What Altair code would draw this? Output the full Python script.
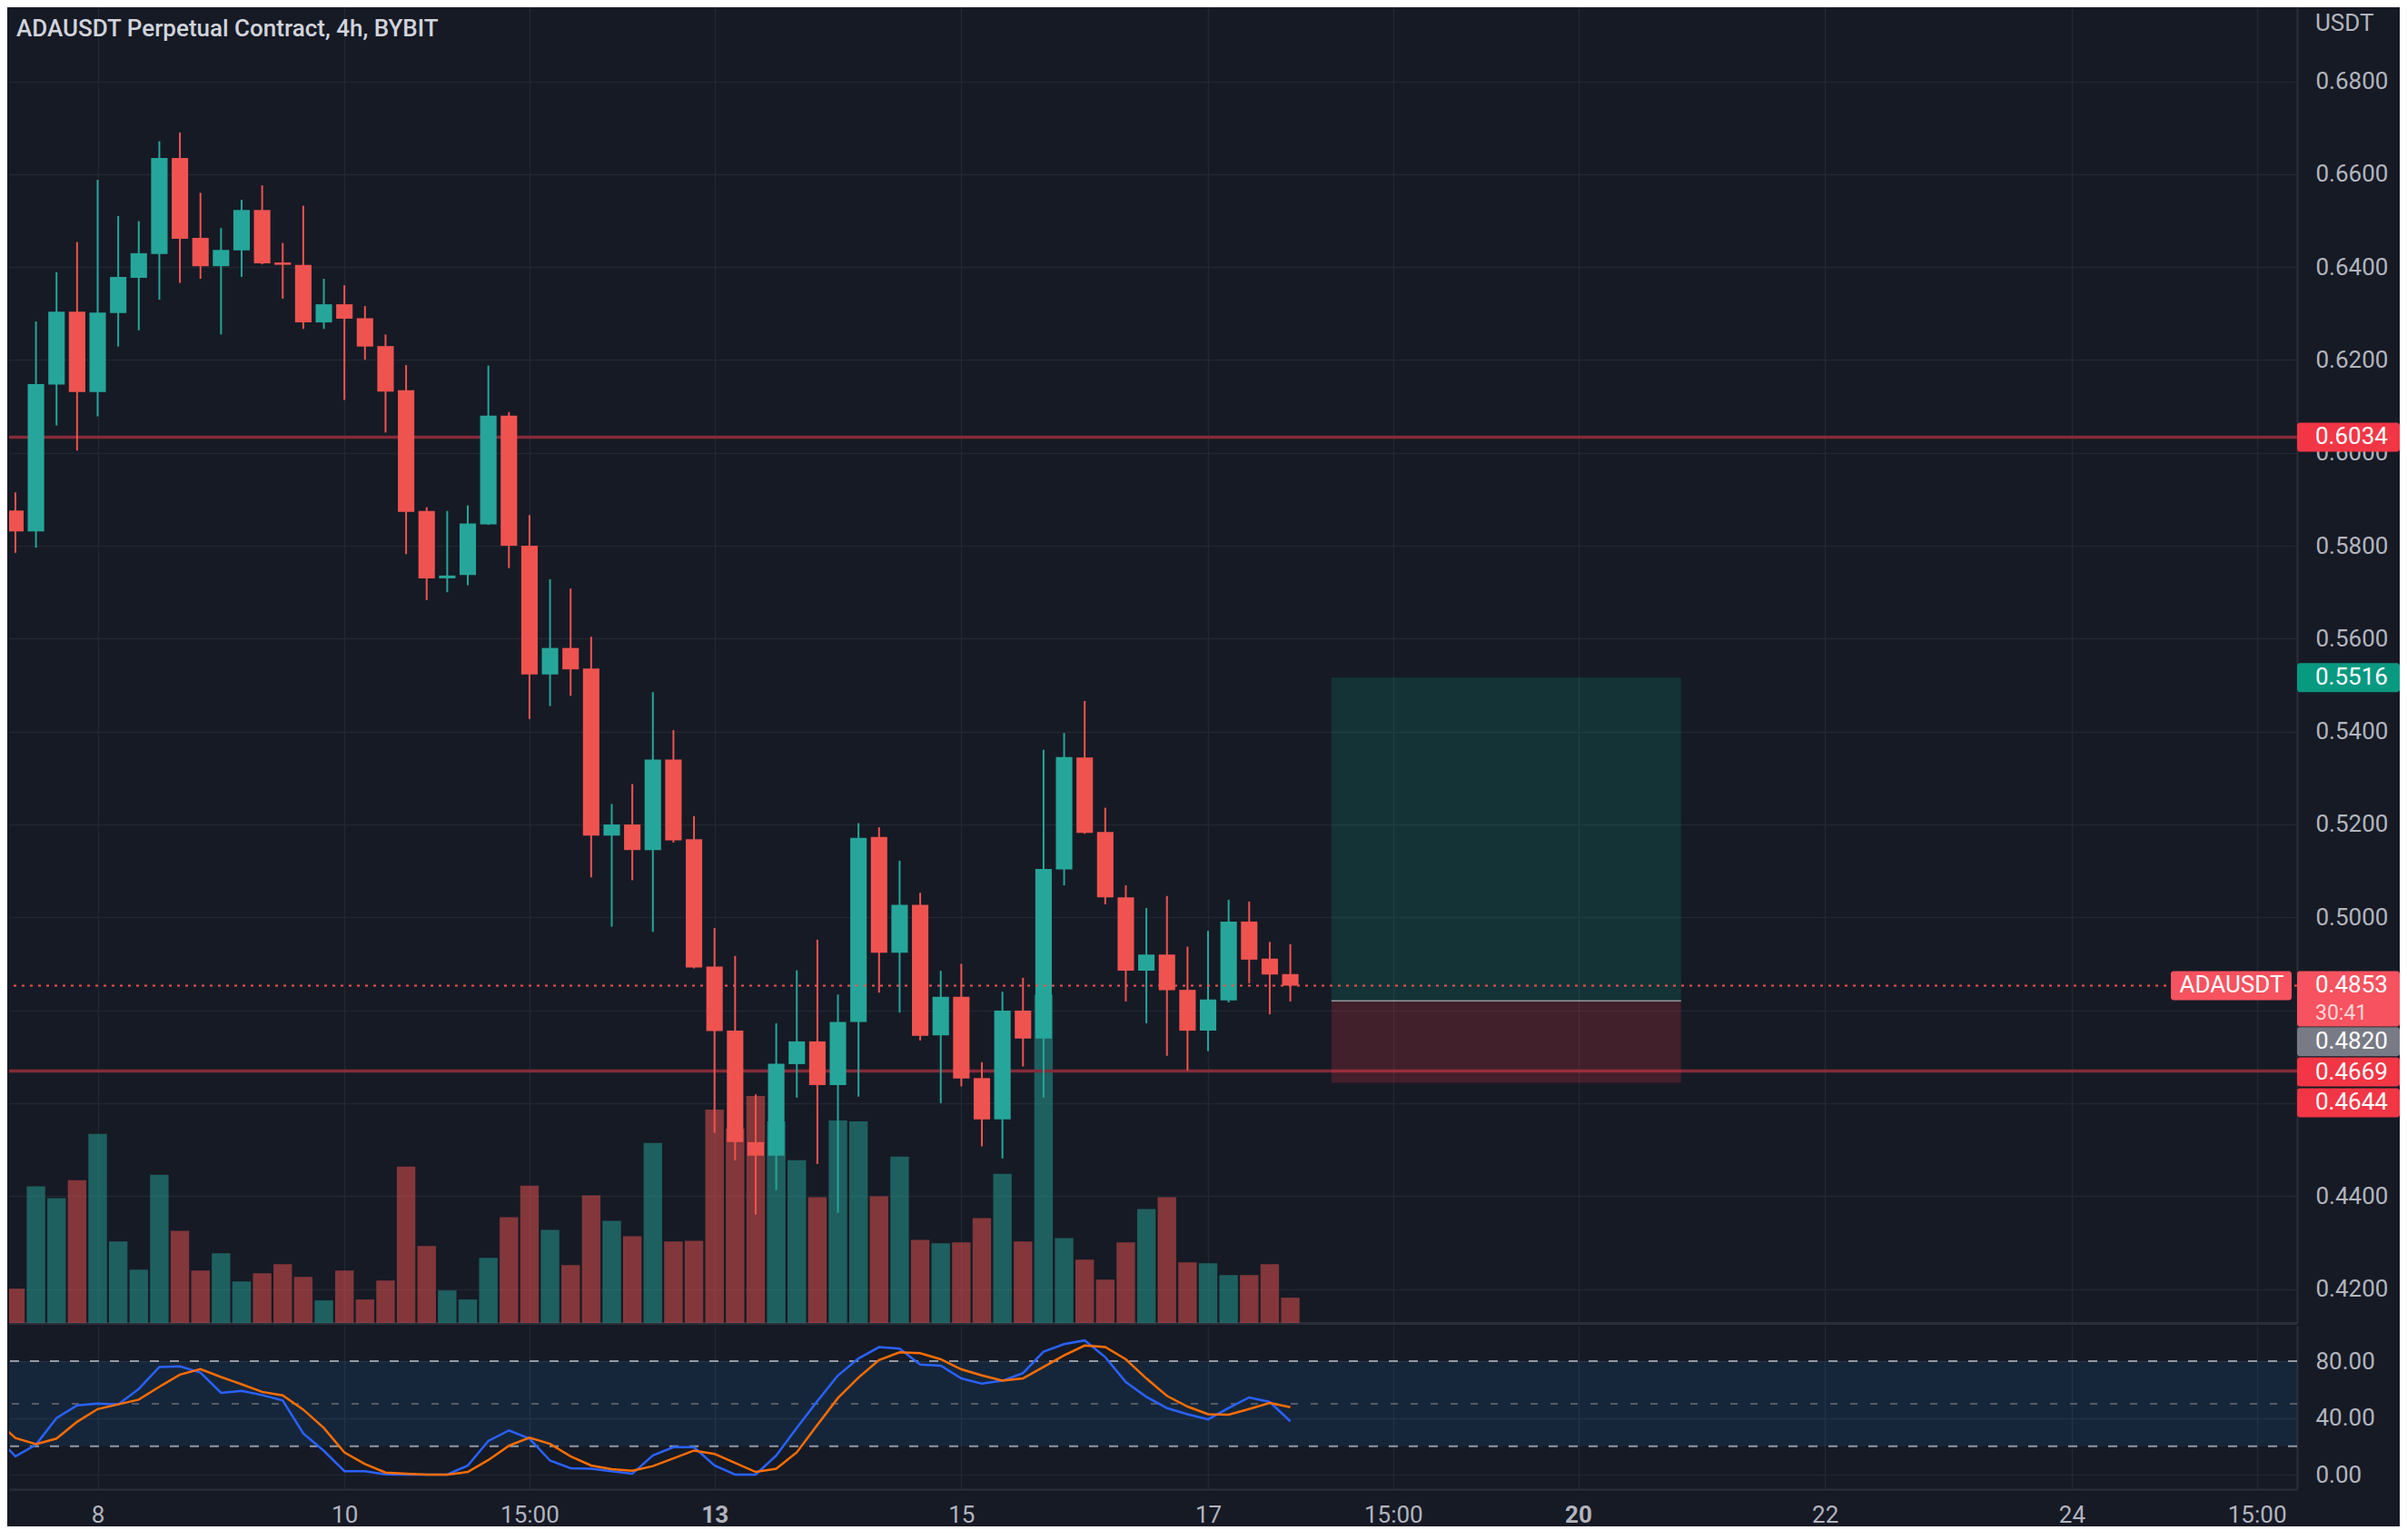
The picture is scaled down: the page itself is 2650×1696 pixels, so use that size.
import altair as alt
import pandas as pd

# ---------------- data ----------------
chart_title = "ADAUSDT Perpetual Contract, 4h, BYBIT"
candle_idx = list(range(-5, 59))  # 4h candle index, 0 = first candle of day 8

open_ = [0.5900, 0.5876, 0.5831, 0.6147, 0.6304, 0.6131, 0.6301, 0.6377, 0.6428, 0.6635,
         0.6463, 0.6402, 0.6436, 0.6523, 0.6410, 0.6405, 0.6281, 0.6320, 0.6290, 0.6230,
         0.6135, 0.5875, 0.5730, 0.5737, 0.5846, 0.6080, 0.5800, 0.5523, 0.5580, 0.5536,
         0.5176, 0.5200, 0.5145, 0.5340, 0.5168, 0.4894, 0.4756, 0.4516, 0.4487, 0.4684,
         0.4733, 0.4639, 0.4775, 0.5173, 0.4924, 0.5027, 0.4746, 0.4829, 0.4654, 0.4565,
         0.4799, 0.4739, 0.5103, 0.5344, 0.5184, 0.5043, 0.4885, 0.4920, 0.4844, 0.4756,
         0.4821, 0.4991, 0.4911, 0.4878]
high = [0.5930, 0.5915, 0.6283, 0.6389, 0.6454, 0.6588, 0.6510, 0.6499, 0.6671, 0.6690,
        0.6560, 0.6484, 0.6545, 0.6576, 0.6452, 0.6532, 0.6375, 0.6361, 0.6316, 0.6255,
        0.6189, 0.5883, 0.5875, 0.5887, 0.6188, 0.6088, 0.5866, 0.5728, 0.5708, 0.5604,
        0.5244, 0.5287, 0.5485, 0.5403, 0.5218, 0.4977, 0.4917, 0.4619, 0.4772, 0.4886,
        0.4952, 0.4834, 0.5203, 0.5194, 0.5122, 0.5053, 0.4885, 0.4900, 0.4688, 0.4840,
        0.4870, 0.5361, 0.5397, 0.5466, 0.5236, 0.5069, 0.5020, 0.5046, 0.4937, 0.4971,
        0.5038, 0.5034, 0.4947, 0.4942]
low = [0.5860, 0.5785, 0.5796, 0.6059, 0.6005, 0.6079, 0.6229, 0.6264, 0.6330, 0.6366,
       0.6375, 0.6255, 0.6379, 0.6406, 0.6332, 0.6267, 0.6267, 0.6114, 0.6201, 0.6044,
       0.5782, 0.5683, 0.5700, 0.5715, 0.5845, 0.5752, 0.5427, 0.5455, 0.5477, 0.5086,
       0.4980, 0.5080, 0.4969, 0.5161, 0.4890, 0.4536, 0.4477, 0.4360, 0.4413, 0.4612,
       0.4469, 0.4364, 0.4614, 0.4838, 0.4795, 0.4735, 0.4600, 0.4636, 0.4507, 0.4481,
       0.4679, 0.4612, 0.5069, 0.5180, 0.5028, 0.4819, 0.4772, 0.4702, 0.4670, 0.4712,
       0.4817, 0.4858, 0.4791, 0.4819]
close = [0.5876, 0.5831, 0.6148, 0.6304, 0.6131, 0.6302, 0.6379, 0.6430, 0.6635, 0.6461,
         0.6402, 0.6437, 0.6523, 0.6408, 0.6405, 0.6281, 0.6320, 0.6289, 0.6229, 0.6132,
         0.5873, 0.5730, 0.5736, 0.5848, 0.6080, 0.5800, 0.5523, 0.5580, 0.5534, 0.5176,
         0.5200, 0.5145, 0.5340, 0.5166, 0.4892, 0.4755, 0.4516, 0.4487, 0.4685, 0.4733,
         0.4639, 0.4775, 0.5171, 0.4924, 0.5027, 0.4745, 0.4829, 0.4653, 0.4565, 0.4799,
         0.4739, 0.5104, 0.5345, 0.5182, 0.5043, 0.4885, 0.4920, 0.4843, 0.4756, 0.4823,
         0.4991, 0.4909, 0.4877, 0.4853]
volume = [3.9, 3.8, 15.1, 13.8, 15.8, 20.9, 9.0, 5.9, 16.4, 10.2,
          5.8, 7.7, 4.6, 5.5, 6.5, 5.1, 2.5, 5.8, 2.6, 4.7,
          17.3, 8.5, 3.6, 2.6, 7.2, 11.7, 15.2, 10.3, 6.4, 14.1,
          11.3, 9.6, 19.9, 9.0, 9.1, 23.6, 21.5, 25.1, 22.3, 18.0,
          13.9, 22.4, 22.3, 14.0, 18.4, 9.2, 8.8, 8.9, 11.6, 16.5,
          9.0, 36.3, 9.4, 7.0, 4.8, 8.9, 12.6, 13.9, 6.7, 6.6,
          5.3, 5.3, 6.5, 2.8]
stoch_k = [28.2, 12.9, 21.1, 39.8, 48.8, 50.1, 49.5, 60.4, 75.9, 76.3,
           72.0, 57.6, 59.1, 56.1, 52.3, 29.0, 16.8, 2.4, 2.4, 0.2,
           0.0, 0.0, 0.0, 6.4, 23.7, 31.2, 25.4, 9.9, 4.5, 4.1,
           2.4, 0.6, 13.5, 19.3, 19.3, 6.4, 0.0, 0.0, 13.5, 32.9,
           51.8, 69.9, 81.9, 89.9, 88.8, 77.6, 76.8, 67.8, 64.1, 66.2,
           71.6, 86.7, 92.0, 94.6, 82.8, 65.2, 54.8, 46.9, 42.6, 38.9,
           46.9, 54.4, 51.2, 37.6]
stoch_d = [38.9, 25.8, 21.5, 25.4, 37.2, 46.2, 49.5, 52.9, 61.9, 70.5,
           74.4, 68.8, 63.7, 58.3, 55.9, 45.8, 32.9, 15.7, 7.5, 1.5,
           0.6, 0.0, 0.0, 1.9, 10.3, 20.4, 26.0, 21.7, 12.9, 6.4,
           3.9, 2.8, 6.0, 11.4, 17.0, 14.6, 8.2, 1.9, 4.1, 15.7,
           35.0, 54.0, 68.4, 80.8, 86.2, 85.6, 81.3, 74.2, 69.9, 66.2,
           67.8, 75.9, 84.1, 91.0, 89.9, 81.3, 67.8, 55.5, 48.0, 42.6,
           42.2, 46.2, 50.5, 47.5]

tick_idx = [0, 12, 21, 30, 42, 54, 63, 72, 84, 96, 105]
tick_txt = ["8", "10", "15:00", "13", "15", "17", "15:00", "20", "22", "24", "15:00"]
tick_bold = ["13", "20"]
price_ticks = [0.42, 0.44, 0.46, 0.48, 0.50, 0.52, 0.54, 0.56, 0.58, 0.60, 0.62, 0.64, 0.66, 0.68]
stoch_ticks = [0, 40, 80]
stoch_bands = [80, 20]
stoch_mid = [50]

hline_prices = [0.6034, 0.4669]
last_price = 0.4853
countdown = "30:41"
symbol = "ADAUSDT"
pos_target, pos_entry, pos_stop = 0.5516, 0.4820, 0.4644
pos_start, pos_end = 60, 77

tag_price = [0.6034, 0.5516, 0.4853, 0.4820, 0.4669, 0.4644]
tag_fill = ["#f23645", "#089981", "#f7525f", "#787b86", "#f23645", "#f23645"]

# ---------------- layout / style ----------------
tag_shift = [0, 0, 0, 45, 1, 22]   # px pushed down to avoid collisions
tag_extra = [0, 0, 29, 0, 0, 0]    # extra px height (countdown row)

W, H_MAIN, H_ST = 2519, 1449, 180
X_DOM = [-4.307, 106.96]
P_DOM = [0.41267, 0.69595]
V_DOM = [0, 145.5]
S_DOM = [-10.24, 104.96]
PX = H_MAIN / (P_DOM[1] - P_DOM[0])

FONT = "Roboto"
BG = "#161a25"
GRID = "#232733"
SEP = "#2a2e39"
AXC = "#b2b5be"
TITLEC = "#d1d4dc"
GREEN = "#26a69a"
RED = "#ef5350"
HL = "#852b39"
BLUE = "#2962ff"
ORANGE = "#ff6d00"

df = pd.DataFrame(dict(i=candle_idx, o=open_, h=high, l=low, c=close,
                       v=volume, k=stoch_k, d=stoch_d))

xs = alt.Scale(domain=X_DOM, nice=False, zero=False)
ps = alt.Scale(domain=P_DOM, nice=False, zero=False)
vs = alt.Scale(domain=V_DOM, nice=False, zero=False)
ss = alt.Scale(domain=S_DOM, nice=False, zero=False)

ax_xm = alt.Axis(values=tick_idx, labels=False, ticks=False, grid=True, gridColor=GRID,
                 gridWidth=1.5, domain=True, domainColor=SEP, domainWidth=3, title=None)
label_expr = " : ".join(f"datum.value == {v} ? '{t}'" for v, t in zip(tick_idx, tick_txt)) + " : ''"
bold_test = " || ".join(f"datum.value == {v}" for v, t in zip(tick_idx, tick_txt) if t in tick_bold)
ax_xs = alt.Axis(values=tick_idx, labelExpr=label_expr, ticks=False, grid=True, gridColor=GRID,
                 gridWidth=1.5, domain=True, domainColor=SEP, domainWidth=2, title=None,
                 labelColor=AXC, labelFont=FONT, labelFontSize=26, labelPadding=15,
                 labelFlush=False, labelOverlap=False,
                 labelFontWeight={"condition": {"test": bold_test, "value": "bold"}, "value": "normal"})
ax_p = alt.Axis(orient="right", values=price_ticks, format=".4f", ticks=False, labelPadding=20,
                labelColor=AXC, labelFont=FONT, labelFontSize=26, labelOverlap=False,
                labelFlush=False, grid=True, gridColor=GRID, gridWidth=1.5, domain=True,
                domainColor=SEP, domainWidth=2, title=None)
ax_s = alt.Axis(orient="right", values=stoch_ticks, format=".2f", ticks=False, labelPadding=20,
                labelColor=AXC, labelFont=FONT, labelFontSize=26, labelOverlap=False,
                labelFlush=False, grid=True, gridColor=GRID, gridWidth=1.5, domain=True,
                domainColor=SEP, domainWidth=2, title=None)


def XM(f):
    return alt.X(f, type="quantitative", scale=xs, axis=ax_xm)


def XS(f):
    return alt.X(f, type="quantitative", scale=xs, axis=ax_xs)


def P(f):
    return alt.Y(f, type="quantitative", scale=ps, axis=ax_p)


def S(f):
    return alt.Y(f, type="quantitative", scale=ss, axis=ax_s)


updown = alt.condition("datum.c >= datum.o", alt.value(GREEN), alt.value(RED))
base = alt.Chart(df)

vol = base.transform_calculate(x0="datum.i - 0.45", x1="datum.i + 0.45", v0="0").mark_rect(
    clip=True, opacity=0.5).encode(
    x=XM("x0"), x2=alt.X2("x1"), y=alt.Y("v:Q", scale=vs, axis=None), y2=alt.Y2("v0"), color=updown)

hl = alt.Chart(pd.DataFrame({"p": hline_prices})).mark_rule(color=HL, strokeWidth=3.5).encode(y=P("p"))

box_df = pd.DataFrame({"x0": [pos_start, pos_start], "x1": [pos_end, pos_end],
                       "y0": [pos_target, pos_entry], "y1": [pos_entry, pos_stop],
                       "zone": ["target", "stop"]})
box = alt.Chart(box_df).mark_rect(opacity=0.2).encode(
    x=XM("x0"), x2=alt.X2("x1"), y=P("y0"), y2=alt.Y2("y1"),
    color=alt.Color("zone:N", scale=alt.Scale(domain=["target", "stop"], range=["#089981", "#f23645"]),
                    legend=None))
entry = alt.Chart(pd.DataFrame({"x0": [pos_start], "x1": [pos_end], "p": [pos_entry]})).mark_rule(
    color="#9598a1", strokeWidth=1.5).encode(x=XM("x0"), x2=alt.X2("x1"), y=P("p"))

wicks = base.mark_rule(clip=True, strokeWidth=2).encode(x=XM("i"), y=P("l"), y2=alt.Y2("h"), color=updown)
bodies = base.transform_calculate(x0="datum.i - 0.4", x1="datum.i + 0.4").mark_rect(clip=True).encode(
    x=XM("x0"), x2=alt.X2("x1"), y=P("o"), y2=alt.Y2("c"), color=updown)

dotted = alt.Chart(pd.DataFrame({"p": [last_price]})).mark_rule(
    color=RED, strokeWidth=2, strokeDash=[3, 6]).encode(y=P("p"))

title = alt.Chart(pd.DataFrame({"t": [chart_title]})).mark_text(
    align="left", baseline="middle", font=FONT, fontSize=26, fontWeight=500, color=TITLEC).encode(
    text="t:N", x=alt.value(8), y=alt.value(24))
usdt = alt.Chart(pd.DataFrame({"t": ["USDT"]})).mark_text(
    align="left", baseline="middle", font=FONT, fontSize=26, color=AXC).encode(
    text="t:N", x=alt.value(W + 20), y=alt.value(18))

tags_df = pd.DataFrame({"p": tag_price, "fill": tag_fill, "shift": tag_shift, "extra": tag_extra})
tags_base = alt.Chart(tags_df).transform_calculate(
    top=f"datum.p + (16 - datum.shift) / {PX}",
    bot=f"datum.p - (16 + datum.shift + datum.extra) / {PX}",
    ty=f"datum.p - datum.shift / {PX}")
tag_rect = tags_base.mark_rect(cornerRadius=3).encode(
    x=alt.value(W), x2=alt.value(W + 113), y=P("top"), y2=alt.Y2("bot"),
    color=alt.Color("fill:N", scale=None))
tag_text = tags_base.mark_text(align="left", baseline="middle", font=FONT, fontSize=26, color="#ffffff").encode(
    x=alt.value(W + 20), y=P("ty"), text=alt.Text("p:Q", format=".4f"))

lp_df = pd.DataFrame({"p": [last_price], "sym": [symbol], "cd": [countdown]})
lp_base = alt.Chart(lp_df).transform_calculate(
    top=f"datum.p + 16 / {PX}", bot=f"datum.p - 16 / {PX}", cy=f"datum.p - 31 / {PX}")
sym_rect = lp_base.mark_rect(cornerRadius=3, color="#f7525f").encode(
    x=alt.value(W - 139), x2=alt.value(W - 6), y=P("top"), y2=alt.Y2("bot"))
sym_text = lp_base.mark_text(align="center", baseline="middle", font=FONT, fontSize=26, color="#ffffff").encode(
    x=alt.value(W - 72), y=P("p"), text="sym:N")
cd_text = lp_base.mark_text(align="left", baseline="middle", font=FONT, fontSize=23, color="#ffd6d8").encode(
    x=alt.value(W + 20), y=P("cy"), text="cd:N")

price_group = alt.layer(hl, box, entry, wicks, bodies, dotted, sym_rect, sym_text,
                        tag_rect, tag_text, cd_text, title, usdt)
main = alt.layer(vol, price_group).resolve_scale(y="independent").properties(width=W, height=H_MAIN)

band = alt.Chart(pd.DataFrame({"a": [stoch_bands[1]], "b": [stoch_bands[0]]})).mark_rect(
    color="#2196f3", opacity=0.1).encode(x=alt.value(0), x2=alt.value(W), y=S("a"), y2=alt.Y2("b"))
lv = alt.Chart(pd.DataFrame({"lv": stoch_bands})).mark_rule(
    color="#9598a1", strokeWidth=2, strokeDash=[10, 12]).encode(y=S("lv"))
lv_mid = alt.Chart(pd.DataFrame({"lv": stoch_mid})).mark_rule(
    color="#6a6d78", strokeWidth=1.5, strokeDash=[8, 14]).encode(y=S("lv"))
kline = base.mark_line(clip=True, color=BLUE, strokeWidth=2.5).encode(x=XS("i"), y=S("k"))
dline = base.mark_line(clip=True, color=ORANGE, strokeWidth=2.5).encode(x=XS("i"), y=S("d"))
stoch = alt.layer(band, lv, lv_mid, kline, dline).properties(width=W, height=H_ST)

chart = alt.vconcat(main, stoch, spacing=3).resolve_scale(
    x="independent", y="independent", color="independent").properties(
    background=BG, padding=0).configure_view(stroke=None)

chart.save("out.html", embed_options={"renderer": "svg", "actions": False})
